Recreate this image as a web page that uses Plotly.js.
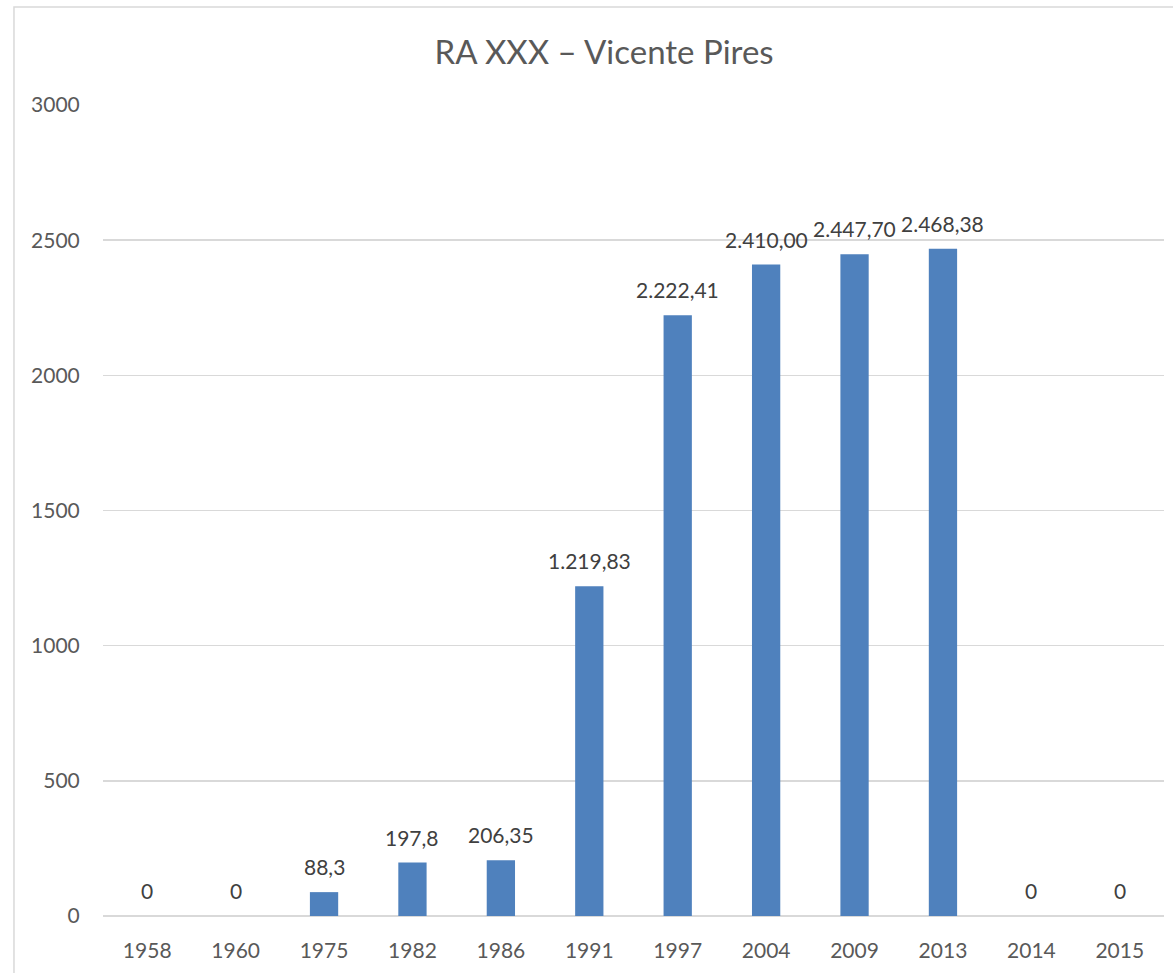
<!DOCTYPE html>
<html>
<head>
<meta charset="utf-8">
<script src="https://cdn.plot.ly/plotly-3.0.1.min.js"></script>
<style>
  html, body { margin: 0; padding: 0; background: #fff; }
  #chart { width: 1173px; height: 973px; }
</style>
</head>
<body>
<div id="chart"></div>
<script>
// years on the x axis and the value for each one
var years = ["1958", "1960", "1975", "1982", "1986", "1991", "1997", "2004", "2009", "2013", "2014", "2015"];
var values = [0, 0, 88.3, 197.8, 206.35, 1219.83, 2222.41, 2410.00, 2447.70, 2468.38, 0, 0];
// data labels as written on the chart (mixed formats)
var labels = ["0", "0", "88,3", "197,8", "206,35", "1.219,83", "2.222,41", "2.410,00", "2.447,70", "2.468,38", "0", "0"];

var fontName = "Lato, 'Open Sans', sans-serif";

var trace = {
    x: years,
    y: values,
    type: "bar",
    marker: { color: "#4f81bd" },
    hoverinfo: "x+y"
};

// value labels above each bar (x is the category index, years look numeric)
var notes = [];
for (let i = 0; i < years.length; i++) {
    notes.push({
        x: i,
        y: values[i],
        text: labels[i],
        showarrow: false,
        yanchor: "bottom",
        yshift: 11,
        font: { family: fontName, size: 21, color: "#404040" }
    });
}

var layout = {
    width: 1173,
    height: 973,
    paper_bgcolor: "#ffffff",
    plot_bgcolor: "#ffffff",
    margin: { l: 103, r: 9, t: 105, b: 57 },
    bargap: 0.68,
    showlegend: false,
    title: {
        text: "RA XXX – Vicente Pires",
        xref: "container",
        yref: "container",
        x: 0.515,
        xanchor: "center",
        y: 0.9466,
        yanchor: "middle",
        font: { family: fontName, size: 33, color: "#595959" }
    },
    xaxis: {
        type: "category",
        range: [-0.5, years.length - 0.5],
        showgrid: false,
        showline: false,
        ticks: "outside",
        ticklen: 16,
        tickcolor: "rgba(0,0,0,0)",
        tickfont: { family: fontName, size: 21, color: "#595959" }
    },
    yaxis: {
        range: [0, 3000],
        dtick: 500,
        showgrid: true,
        gridcolor: "#d9d9d9",
        gridwidth: 1.5,
        zeroline: true,
        zerolinecolor: "#d9d9d9",
        zerolinewidth: 1.5,
        ticks: "outside",
        ticklen: 18,
        tickcolor: "rgba(0,0,0,0)",
        tickfont: { family: fontName, size: 21, color: "#595959" }
    },
    annotations: notes,
    shapes: [{
        type: "rect",
        xref: "paper",
        yref: "paper",
        x0: -0.0839,
        x1: 1.2,
        y0: -0.3,
        y1: 1.1208,
        line: { color: "#d9d9d9", width: 1.5 },
        fillcolor: "rgba(0,0,0,0)",
        layer: "below"
    }]
};

Plotly.newPlot("chart", [trace], layout, { displayModeBar: false, staticPlot: true });
</script>
</body>
</html>
